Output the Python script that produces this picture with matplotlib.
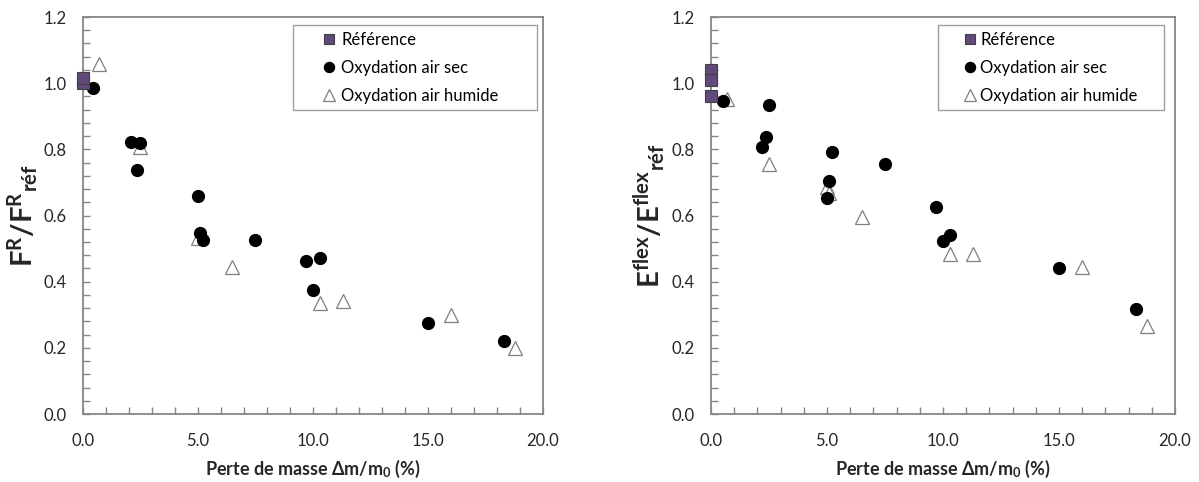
import matplotlib
matplotlib.use('Agg')
import matplotlib.pyplot as plt
from matplotlib.ticker import MultipleLocator, FormatStrFormatter

plt.rcParams['font.family'] = ['Lato', 'DejaVu Sans']
plt.rcParams['mathtext.fontset'] = 'custom'
plt.rcParams['mathtext.rm'] = 'Lato'
plt.rcParams['mathtext.bf'] = 'Lato:bold'
plt.rcParams['mathtext.it'] = 'Lato:italic'

# Données : contrainte à rupture (gauche)
ref_x_F = [0.0, 0.0]
ref_y_F = [1.0, 1.015]
sec_x_F = [0.45, 2.1, 2.5, 2.35, 5.0, 5.1, 5.2, 7.5, 9.7, 10.3, 10.0, 15.0, 18.3]
sec_y_F = [0.985, 0.822, 0.82, 0.737, 0.658, 0.548, 0.525, 0.527, 0.464, 0.472, 0.376, 0.276, 0.221]
hum_x_F = [0.7, 2.5, 5.0, 6.5, 10.3, 11.3, 16.0, 18.8]
hum_y_F = [1.057, 0.808, 0.532, 0.445, 0.335, 0.342, 0.30, 0.20]

# Données : module de flexion (droite)
ref_x_E = [0.0, 0.0, 0.0]
ref_y_E = [1.04, 1.01, 0.96]
sec_x_E = [0.5, 2.5, 2.35, 2.2, 5.2, 5.1, 5.0, 7.5, 9.7, 10.3, 10.0, 15.0, 18.3]
sec_y_E = [0.945, 0.935, 0.836, 0.808, 0.793, 0.705, 0.653, 0.757, 0.625, 0.54, 0.523, 0.442, 0.318]
hum_x_E = [0.7, 2.5, 5.0, 5.1, 6.5, 10.3, 11.3, 16.0, 18.8]
hum_y_E = [0.952, 0.755, 0.685, 0.668, 0.595, 0.485, 0.485, 0.443, 0.265]

xlabel = r'Perte de masse $\mathbf{\Delta}$m/m$_\mathbf{0}$ (%)'
ylabel_F = r'$\mathbf{F^{R}/F^{R}{}_{réf}}$'
ylabel_E = r'$\mathbf{E^{flex}/E^{flex}{}_{réf}}$'

fig = plt.figure(figsize=(11.99, 4.82), dpi=100)
ax1 = fig.add_axes([0.0692, 0.141, 0.3837, 0.8237])
ax2 = fig.add_axes([0.593, 0.141, 0.387, 0.8237])

gris = '#868686'

def tracer(ax, rx, ry, sx, sy, hx, hy, ylabel, leg_x, leg_w, hlen, hpad):
    ax.plot(rx, ry, 's', color='#604a7b', markeredgecolor='#404040', markeredgewidth=0.8,
            markersize=8, label='Référence', zorder=4, clip_on=False)
    ax.plot(sx, sy, 'o', color='black', markersize=8.5, label='Oxydation air sec', zorder=3)
    ax.plot(hx, hy, '^', markerfacecolor='white', markeredgecolor='#7f7f7f', markeredgewidth=0.9,
            markersize=9.5, label='Oxydation air humide', zorder=2)
    ax.set_xlim(0, 20)
    ax.set_ylim(0, 1.2)
    ax.xaxis.set_major_locator(MultipleLocator(5))
    ax.xaxis.set_minor_locator(MultipleLocator(1))
    ax.yaxis.set_major_locator(MultipleLocator(0.2))
    ax.yaxis.set_minor_locator(MultipleLocator(0.04))
    ax.xaxis.set_major_formatter(FormatStrFormatter('%.1f'))
    ax.yaxis.set_major_formatter(FormatStrFormatter('%.1f'))
    ax.tick_params(which='both', direction='in', color=gris, labelsize=12, labelcolor='#262626')
    ax.tick_params(which='major', length=5, width=1)
    ax.tick_params(which='minor', length=5, width=1)
    ax.tick_params(axis='x', pad=14)
    ax.tick_params(axis='y', pad=12)
    for s in ax.spines.values():
        s.set_color(gris)
        s.set_linewidth(1.3)
    ax.set_xlabel(xlabel, fontsize=13, fontweight='bold', labelpad=6, color='#262626')
    ax.set_ylabel(ylabel, fontsize=21, labelpad=2, color='#262626')
    leg = ax.legend(loc='upper left', bbox_to_anchor=(leg_x, 0, leg_w, 0.98), mode='expand',
                    frameon=True, fancybox=False, edgecolor=gris, fontsize=12,
                    handletextpad=hpad, borderpad=0.4, labelspacing=0.72,
                    handlelength=hlen, borderaxespad=0, markerscale=0.85)
    leg.get_frame().set_linewidth(1.0)

tracer(ax1, ref_x_F, ref_y_F, sec_x_F, sec_y_F, hum_x_F, hum_y_F, ylabel_F, 0.4565, 0.5305, 3.5, -1.0)
tracer(ax2, ref_x_E, ref_y_E, sec_x_E, sec_y_E, hum_x_E, hum_y_E, ylabel_E, 0.489, 0.487, 3.0, -0.85)

fig.savefig('out.png', dpi=100)
